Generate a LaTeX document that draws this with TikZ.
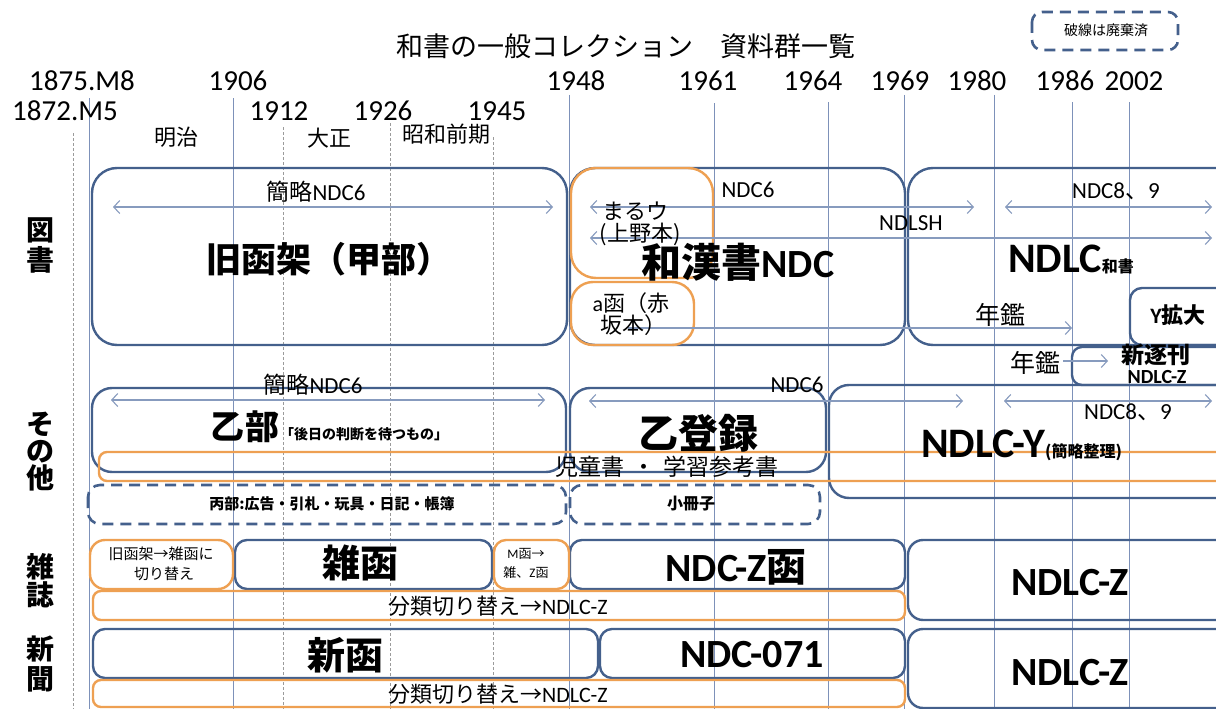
\documentclass[tikz,border=0pt]{standalone}
\usepackage{fontspec}
\setmainfont{Carlito}
\newfontfamily\jp{Noto Sans CJK JP}
\usetikzlibrary{arrows.meta}
\definecolor{boxblue}{RGB}{68,96,140}
\definecolor{boxorange}{RGB}{238,160,82}
\definecolor{arrowc}{RGB}{135,155,190}
\definecolor{gridc}{RGB}{125,145,185}
\definecolor{gridd}{RGB}{155,155,155}
\newcommand\myfs[1]{\fontsize{#1}{#1}\selectfont}
\begin{document}
\begin{tikzpicture}[x=1pt,y=-1pt,
  bluebox/.style={draw=boxblue,line width=2.4pt,rounded corners=#1},
  bluebox/.default=25pt,
  orbox/.style={draw=boxorange,line width=2.4pt,rounded corners=#1},
  orbox/.default=25pt,
  dashbox/.style={draw=boxblue,line width=2.6pt,dash pattern=on 11pt off 7pt,rounded corners=#1},
  dashbox/.default=12pt,
  gridline/.style={draw=gridc,line width=0.8pt},
  gridlined/.style={draw=gridd,line width=0.8pt,dash pattern=on 3pt off 2pt},
  dbl/.style={draw=arrowc,line width=1.1pt,arrows={Straight Barb[length=6pt,width=13pt]-Straight Barb[length=6pt,width=13pt]}},
  sgl/.style={draw=arrowc,line width=1.1pt,arrows={-Straight Barb[length=6pt,width=13pt]}},
  txt/.style={inner sep=0pt,outer sep=0pt,align=center},
  rowlbl/.style={inner sep=0pt,outer sep=0pt,align=center,font=\jp\bfseries\fontsize{28}{#1}\selectfont}]
\useasboundingbox (0,0) rectangle (1216,709);
\clip (0,0) rectangle (1216,709);
\fill[white] (0,0) rectangle (1216,709);

% grid lines
\foreach \x/\t in {89/98,233/98,569/95,714/103,828/102,904/95,994/95,1072/102,1129/102}
  \draw[gridline] (\x,\t) -- (\x,709);
\foreach \x/\t in {73/133,283/127,390/123,493/137}
  \draw[gridlined] (\x,\t) -- (\x,709);

% title and legend
\node[txt] (title) at (626,46) {\jp\myfs{27}和書の一般コレクション　資料群一覧};
\draw[dashbox=10pt] (1032,12) rectangle (1178,50);
\node[txt] (legend) at (1106,30) {\jp\myfs{14}破線は廃棄済};

% years
\node[txt] (y1875) at (82,81) {\myfs{29}1875.M8};
\node[txt] (y1906) at (238,81) {\myfs{29}1906};
\node[txt] (y1948) at (576,81) {\myfs{29}1948};
\node[txt] (y1961) at (708,81) {\myfs{29}1961};
\node[txt] (y1964) at (813,81) {\myfs{29}1964};
\node[txt] (y1969) at (900,81) {\myfs{29}1969};
\node[txt] (y1980) at (977,81) {\myfs{29}1980};
\node[txt] (y1986) at (1065,81) {\myfs{29}1986};
\node[txt] (y2002) at (1134,81) {\myfs{29}2002};
\node[txt] (y1872) at (65,111) {\myfs{29}1872.M5};
\node[txt] (y1912) at (279,111) {\myfs{29}1912};
\node[txt] (y1926) at (383,111) {\myfs{29}1926};
\node[txt] (y1945) at (497,111) {\myfs{29}1945};
\node[txt] (meiji) at (176,137) {\jp\myfs{22}明治};
\node[txt] (taisho) at (329,138) {\jp\myfs{22}大正};
\node[txt] (showa) at (446,134) {\jp\myfs{22}昭和前期};

% row labels
\node[rowlbl=30] (lbl1) at (40,245) {図\\書};
\node[rowlbl=27] (lbl2) at (40,452) {そ\\の\\他};
\node[rowlbl=28] (lbl3) at (40,581) {雑\\誌};
\node[rowlbl=30] (lbl4) at (40,664) {新\\聞};

% blue boxes
\draw[bluebox=25pt] (92,168) rectangle (567,345);
\draw[bluebox=25pt] (570,168) rectangle (905,345);
\draw[bluebox=25pt] (908,168) rectangle (1260,345);
\draw[bluebox=12pt] (1130,288) rectangle (1260,345);
\draw[bluebox=10pt] (1072,347) rectangle (1260,385);
\draw[bluebox=20pt] (92,388) rectangle (566,472);
\draw[bluebox=20pt] (570,388) rectangle (826,472);
\draw[bluebox=20pt] (829,385) rectangle (1260,498);
\draw[bluebox=12pt] (235,540) rectangle (492,589);
\draw[bluebox=12pt] (570,540) rectangle (905,589);
\draw[bluebox=15pt] (908,540) rectangle (1260,620);
\draw[bluebox=12pt] (93,629) rectangle (598,678);
\draw[bluebox=12pt] (600,629) rectangle (905,678);
\draw[bluebox=15pt] (908,629) rectangle (1260,708);

% dashed boxes
\draw[dashbox] (88,485) rectangle (566,524);
\draw[dashbox] (570,485) rectangle (820,524);

% orange boxes
\draw[orbox=25pt] (571,168) rectangle (713,278);
\draw[orbox=22pt] (571,282) rectangle (694,345);
\draw[orbox=8pt] (99,452) rectangle (1260,481);
\draw[orbox=15pt] (90,540) rectangle (233,589);
\draw[orbox=12pt] (494,540) rectangle (569,589);
\draw[orbox=8pt] (93,591) rectangle (905,620);
\draw[orbox=8pt] (93,680) rectangle (905,707);

% arrows
\coordinate (a1l) at (113,207); \coordinate (a1r) at (553,207);
\coordinate (a2l) at (590,207); \coordinate (a2r) at (974,207);
\coordinate (a3l) at (1005,207); \coordinate (a3r) at (1212,207);
\coordinate (a4l) at (590,238); \coordinate (a4r) at (1212,238);
\coordinate (a5l) at (628,328); \coordinate (a5r) at (1072,328);
\coordinate (a6l) at (1063,361); \coordinate (a6r) at (1108,361);
\coordinate (a7l) at (111,400); \coordinate (a7r) at (545,400);
\coordinate (a8l) at (589,401); \coordinate (a8r) at (963,401);
\coordinate (a9l) at (1004,401); \coordinate (a9r) at (1212,401);
\draw[dbl] (a1l) -- (a1r);
\draw[dbl] (a2l) -- (a2r);
\draw[dbl] (a3l) -- (a3r);
\draw[dbl] (a4l) -- (a4r);
\draw[sgl] (a5l) -- (a5r);
\draw[sgl] (a6l) -- (a6r);
\draw[dbl] (a7l) -- (a7r);
\draw[dbl] (a8l) -- (a8r);
\draw[dbl] (a9l) -- (a9r);

% texts row 図書
\node[txt] (kyu) at (329,259) {\jp\bfseries\myfs{35}旧函架（甲部）};
\node[txt] (k6a) at (316,192) {\myfs{23}{\jp 簡略}NDC6};
\node[txt] (n6a) at (748,190) {\myfs{23}NDC6};
\node[txt] (n89a) at (1116,191) {\myfs{23}NDC8{\jp 、}9};
\node[txt] (ndlsh) at (911,223) {\myfs{23}NDLSH};
\node[txt] (maru) at (635,211) {\jp\myfs{22}まるウ};
\node[txt] (ueno) at (640,234) {\jp\myfs{22}(上野本)};
\node[txt] (wakan) at (738,262) {\bfseries\myfs{40}{\jp 和漢書}NDC};
\node[txt] (ndlcw) at (1071,260) {\bfseries\myfs{42}NDLC{\jp\myfs{16}和書}};
\node[txt] (ahako) at (631,303) {\myfs{22}a{\jp 函（赤}};
\node[txt] (akasaka) at (633,325) {\jp\myfs{22}坂本）};
\node[txt] (nenkan1) at (1000,315) {\jp\myfs{25}年鑑};
\node[txt] (nenkan2) at (1035,363) {\jp\myfs{25}年鑑};
\node[txt] (ykaku) at (1178,315) {\bfseries\myfs{22}Y{\jp 拡大}};
\node[txt] (shinchiku) at (1156,355) {\jp\bfseries\myfs{23}新逐刊};
\node[txt] (ndlcz0) at (1157,377) {\bfseries\myfs{20}NDLC-Z};

% texts row その他
\node[txt,anchor=base west] (otsu) at (210,439) {\jp\bfseries\myfs{34}乙\hspace{2pt}部{\myfs{14}「後日の判断を待つもの」}};
\node[txt] (k6b) at (313,385) {\myfs{23}{\jp 簡略}NDC6};
\node[txt] (n6b) at (797,385) {\myfs{23}NDC6};
\node[txt] (otsutoroku) at (698,433) {\jp\bfseries\myfs{40}乙登録};
\node[txt,anchor=base west] (ndlcy) at (921,457) {\bfseries\myfs{42}NDLC-Y{\jp\myfs{16}(簡略整理)}};
\node[txt] (n89b) at (1128,412) {\myfs{23}NDC8{\jp 、}9};
\node[txt] (jido) at (667,467) {\jp\myfs{23}児童書\hspace{8pt}・\hspace{8pt}学習参考書};
\node[txt] (hei) at (332,504) {\jp\bfseries\myfs{15}丙部:広告・引札・玩具・日記・帳簿};
\node[txt] (shosasshi) at (691,504) {\jp\bfseries\myfs{16}小冊子};

% texts row 雑誌
\node[txt] (kirikae1) at (161,554) {\jp\myfs{15}旧函架→雑函に};
\node[txt] (kirikae2) at (164,574) {\jp\myfs{15}切り替え};
\node[txt] (zakkan) at (360,563) {\jp\bfseries\myfs{38}雑函};
\node[txt] (mhako1) at (526,554) {\myfs{13}M{\jp 函→}};
\node[txt] (mhako2) at (526,573) {\myfs{13}{\jp 雑、}Z{\jp 函}};
\node[txt] (ndcz) at (736,567) {\bfseries\myfs{40}NDC-Z{\jp 函}};
\node[txt] (bunrui1) at (498,606) {\myfs{22}{\jp 分類切り替え→}NDLC-Z};
\node[txt] (ndlcz1) at (1070,583) {\bfseries\myfs{40}NDLC-Z};

% texts row 新聞
\node[txt] (shinkan) at (345,655) {\jp\bfseries\myfs{38}新函};
\node[txt] (ndc071) at (752,655) {\bfseries\myfs{40}NDC-071};
\node[txt] (bunrui2) at (498,694) {\myfs{22}{\jp 分類切り替え→}NDLC-Z};
\node[txt] (ndlcz2) at (1070,673) {\bfseries\myfs{40}NDLC-Z};
\end{tikzpicture}
\end{document}
